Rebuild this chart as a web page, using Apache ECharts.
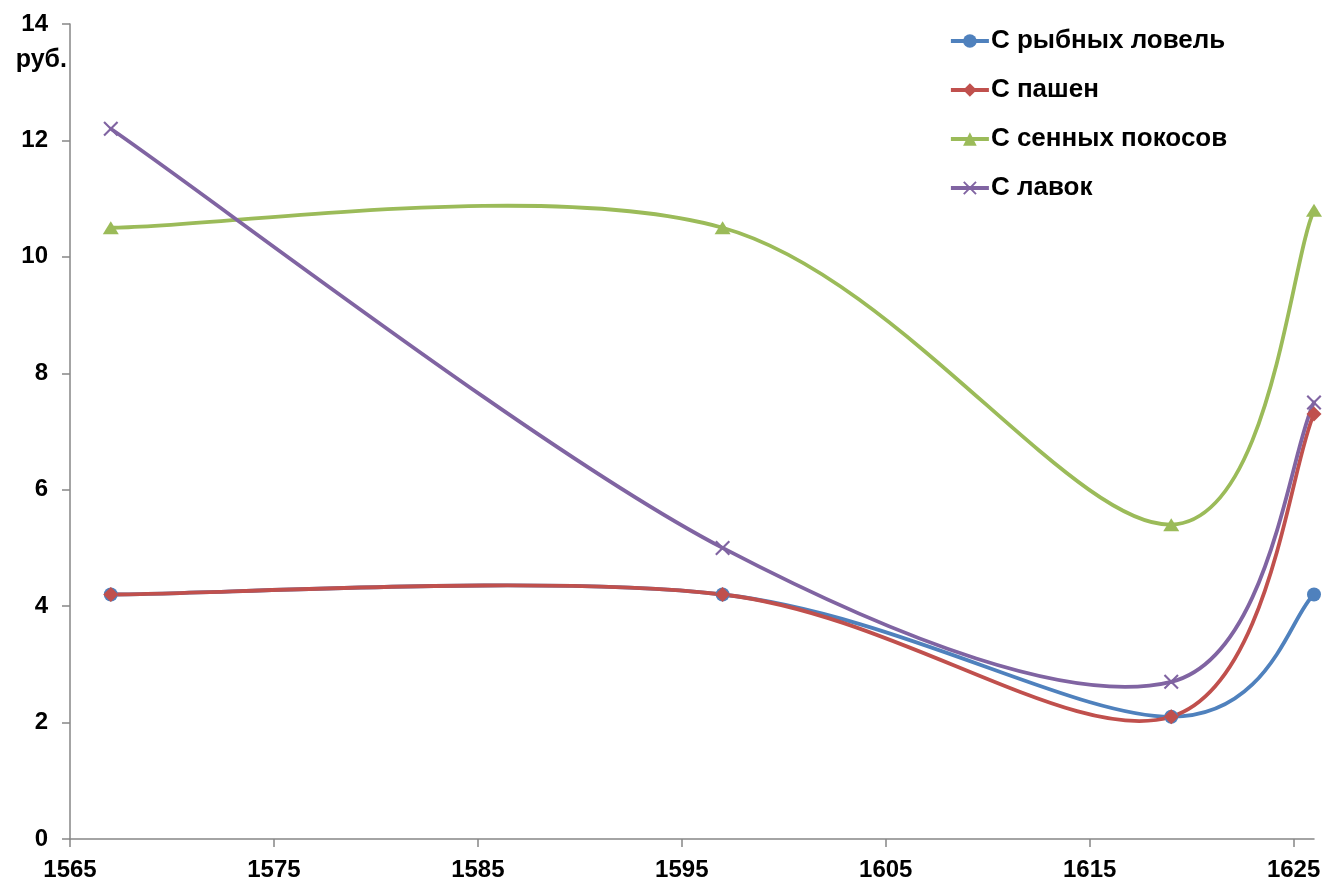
<!DOCTYPE html>
<html><head><meta charset="utf-8">
<script src="https://cdn.jsdelivr.net/npm/echarts@6/dist/echarts.min.js"></script>
<style>html,body{margin:0;padding:0;background:#fff}#c{width:1325px;height:883px}</style>
</head><body><div id="c"></div>
<script>
const years = [1567, 1597, 1619, 1626];
const seriesNames = ['С рыбных ловель', 'С пашен', 'С сенных покосов', 'С лавок'];
const fish = [4.2, 4.2, 2.1, 4.2];
const arable = [4.2, 4.2, 2.1, 7.3];
const hay = [10.5, 10.5, 5.4, 10.8];
const shops = [12.2, 5.0, 2.7, 7.5];
const xTicks = [1565, 1575, 1585, 1595, 1605, 1615, 1625];
const yTicks = [0, 2, 4, 6, 8, 10, 12, 14];
const yUnit = 'руб.';

const colors = ['#4F81BD', '#C0504D', '#9BBB59', '#8064A2'];
const symbols = ['circle', 'diamond', 'triangle',
  'path://M0,1L1,0L5,4L9,0L10,1L6,5L10,9L9,10L5,6L1,10L0,9L4,5Z'];
const sizes = [14, 15, [16, 13], 15];
const datasets = [fish, arable, hay, shops];
const font = 'Liberation Sans, Arial, sans-serif';
const LW = 3.8;

// Smooth (Catmull-Rom style) curve drawn through the data points, segment by segment
function curveSeries(vals, i) {
  return {
    type: 'custom', name: seriesNames[i] + ' curve', silent: true,
    z: 2 + i,
    data: years.map((y, j) => [y, vals[j]]),
    renderItem: function (params, api) {
      const k = params.dataIndex;
      const n = years.length;
      if (k >= n - 1) return null;
      const P = years.map((y, j) => api.coord([y, vals[j]]));
      const p0 = P[Math.max(k - 1, 0)], p1 = P[k], p2 = P[k + 1], p3 = P[Math.min(k + 2, n - 1)];
      const t = 1 / 6;
      return {
        type: 'bezierCurve',
        shape: {
          x1: p1[0], y1: p1[1], x2: p2[0], y2: p2[1],
          cpx1: p1[0] + (p2[0] - p0[0]) * t, cpy1: p1[1] + (p2[1] - p0[1]) * t,
          cpx2: p2[0] - (p3[0] - p1[0]) * t, cpy2: p2[1] - (p3[1] - p1[1]) * t
        },
        style: {stroke: colors[i], lineWidth: LW, fill: null, lineCap: 'round'}
      };
    }
  };
}

const chart = echarts.init(document.getElementById('c'), null, {renderer: 'canvas'});
chart.setOption({
  animation: false,
  color: colors,
  grid: {left: 70, right: 11, top: 24, bottom: 44, containLabel: false},
  legend: {
    orient: 'vertical', left: 944, top: 23, itemGap: 23,
    itemWidth: 38, itemHeight: 17,
    textStyle: {fontFamily: font, fontSize: 26, fontWeight: 'bold', color: '#000', padding: [0,0,0,-3]},
    data: seriesNames.map(n => ({name: n, lineStyle: {opacity: 1, width: LW}}))
  },
  xAxis: {
    type: 'value', min: 1565, max: 1626, interval: 10,
    splitLine: {show: false},
    axisLine: {lineStyle: {color: '#868686', width: 1.5}},
    axisTick: {show: true, length: 8, inside: false, customValues: xTicks, lineStyle: {color: '#868686', width: 1.5}},
    axisLabel: {customValues: xTicks, formatter: v => String(v), margin: 19, fontFamily: font, fontSize: 24, fontWeight: 'bold', color: '#000'}
  },
  yAxis: {
    type: 'value', min: 0, max: 14, interval: 2,
    splitLine: {show: false},
    axisLine: {show: true, lineStyle: {color: '#868686', width: 1.5}},
    axisTick: {show: true, length: 8, customValues: yTicks, lineStyle: {color: '#868686', width: 1.5}},
    axisLabel: {customValues: yTicks, margin: 22, fontFamily: font, fontSize: 24, fontWeight: 'bold', color: '#000'}
  },
  graphic: [{
    type: 'text', right: 1325 - 67, top: 48,
    style: {text: yUnit, font: 'bold 25px ' + font, fill: '#000', textAlign: 'right'}
  }],
  series: datasets.map((d, i) => ({
    name: seriesNames[i], type: 'line',
    data: years.map((y, j) => [y, d[j]]),
    symbol: symbols[i], symbolSize: sizes[i], showSymbol: true,
    lineStyle: {width: LW, color: colors[i], opacity: 0},
    itemStyle: {color: colors[i]},
    z: 10 + i
  })).concat(datasets.map((d, i) => curveSeries(d, i)))
});
</script></body></html>
